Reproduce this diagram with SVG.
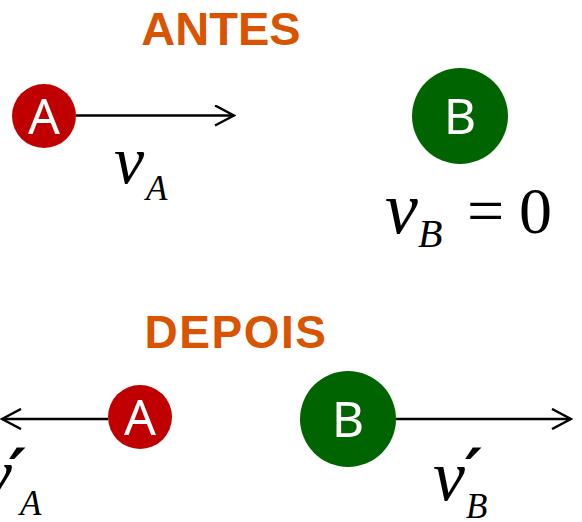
<svg xmlns="http://www.w3.org/2000/svg" width="582" height="522" viewBox="0 0 582 522">
<defs>
<style>
.title{font-family:"Liberation Sans",Arial,sans-serif;font-weight:bold;fill:#D85400;text-anchor:middle}
.lbl{font-family:"Noto Sans","Open Sans",sans-serif;fill:#fff;text-anchor:middle;font-size:50px}
.m{font-family:"Liberation Serif","Times New Roman",serif;font-style:italic;fill:#000}
.p{font-family:"DejaVu Serif","Liberation Serif",serif;font-style:italic;font-weight:bold;fill:#000}
.n{font-family:"Liberation Serif","Times New Roman",serif;fill:#000}
.ln{stroke:#000;stroke-width:2.5;fill:none}
</style>
<marker id="ah" viewBox="0 0 22 22" refX="20" refY="11" markerWidth="22" markerHeight="22" markerUnits="userSpaceOnUse" orient="auto">
<path d="M1,1 L20,11 L1,21" fill="none" stroke="#000" stroke-width="2.5"/>
</marker>
</defs>
<text class="title" x="221" y="45" font-size="47">ANTES</text>
<text class="title" x="236" y="348" font-size="46" letter-spacing="1.5">DEPOIS</text>
<g id="connectors">
<line class="ln" x1="76" y1="115.5" x2="234" y2="115.5" marker-end="url(#ah)"/>
<line class="ln" x1="108" y1="419" x2="2" y2="419" marker-end="url(#ah)"/>
<line class="ln" x1="396" y1="419" x2="571" y2="419" marker-end="url(#ah)"/>
</g>
<g id="A-before">
<circle cx="44" cy="116" r="32" fill="#C00000"/>
<text class="lbl" x="44" y="134">A</text>
</g>
<g id="B-before">
<circle cx="460" cy="116" r="48" fill="#006400"/>
<text class="lbl" x="460" y="134">B</text>
</g>
<g id="A-after">
<circle cx="140" cy="417" r="32" fill="#C00000"/>
<text class="lbl" x="140" y="435">A</text>
</g>
<g id="B-after">
<circle cx="348" cy="419" r="48" fill="#006400"/>
<text class="lbl" x="348" y="437">B</text>
</g>
<g id="labels">
<text class="m" x="114" y="183" font-size="68">v</text>
<text class="m" x="146" y="200" font-size="35">A</text>
<text class="m" x="385" y="233" font-size="74">v</text>
<text class="m" x="418" y="247" font-size="40">B</text>
<text class="n" x="467" y="233" font-size="66">=</text>
<text class="n" x="519" y="233" font-size="66">0</text>
<text class="m" x="-20" y="498" font-size="72">v</text>
<text class="p" x="9" y="494" font-size="64">′</text>
<text class="m" x="20" y="515" font-size="35">A</text>
<text class="m" x="433" y="500" font-size="72">v</text>
<text class="p" x="465" y="494" font-size="64">′</text>
<text class="m" x="466" y="518" font-size="35">B</text>
</g>
</svg>
